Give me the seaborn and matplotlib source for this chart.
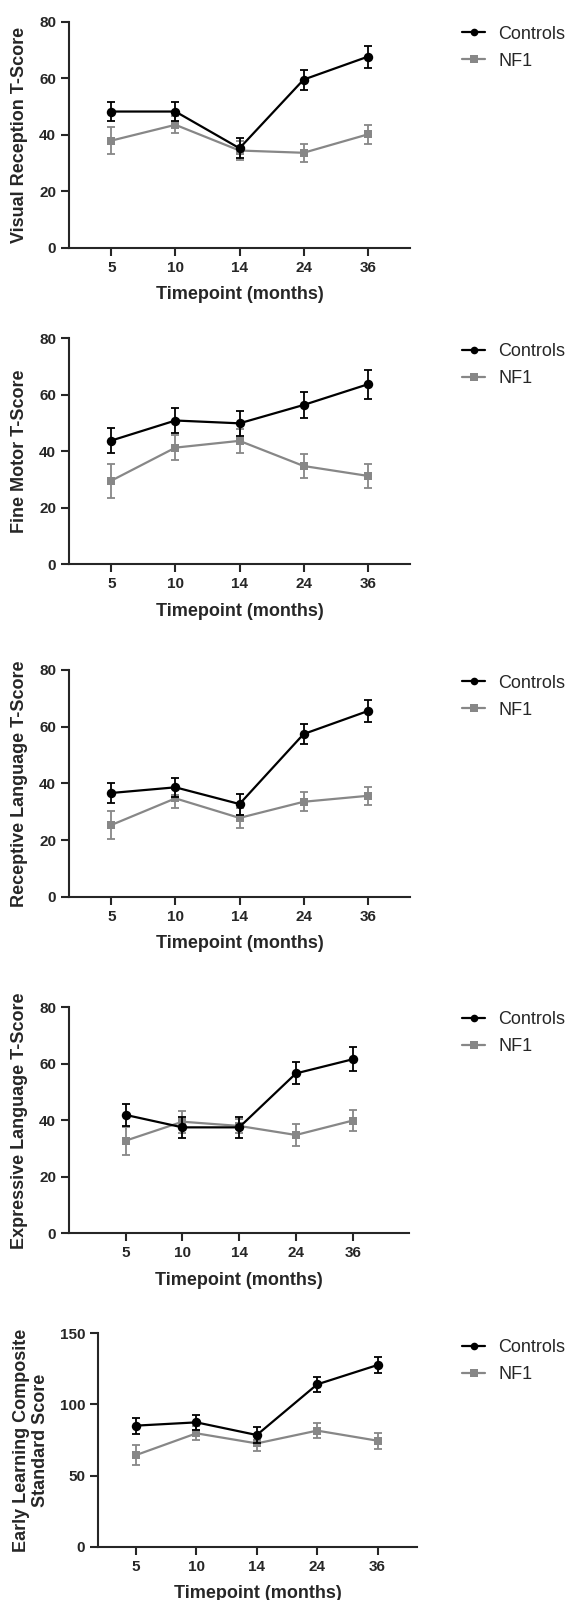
import numpy as np
import pandas as pd
import matplotlib
matplotlib.use("Agg")
import matplotlib.pyplot as plt
from matplotlib.lines import Line2D
import seaborn as sns

sns.set_style("ticks")
plt.rcParams['font.family'] = ['Liberation Sans', 'DejaVu Sans']

timepoints = ["5", "10", "14", "24", "36"]
groups = ["Controls", "NF1"]

# panel titles (y labels)
ylabels = ["Visual Reception T-Score",
           "Fine Motor T-Score",
           "Receptive Language T-Score",
           "Expressive Language T-Score",
           "Early Learning Composite\nStandard Score"]

# means and SEM
vr_ctrl = [48.2, 48.2, 35.2, 59.5, 67.6]
vr_ctrl_err = [3.5, 3.3, 3.6, 3.5, 3.9]
vr_nf1 = [37.9, 43.5, 34.4, 33.6, 40.1]
vr_nf1_err = [4.7, 3.0, 3.3, 3.2, 3.5]

fm_ctrl = [43.8, 50.9, 49.9, 56.4, 63.7]
fm_ctrl_err = [4.5, 4.3, 4.5, 4.5, 5.1]
fm_nf1 = [29.6, 41.3, 43.7, 34.8, 31.3]
fm_nf1_err = [6.0, 4.5, 4.2, 4.4, 4.3]

rl_ctrl = [36.6, 38.6, 32.7, 57.4, 65.5]
rl_ctrl_err = [3.5, 3.4, 3.7, 3.5, 3.8]
rl_nf1 = [25.3, 34.7, 27.8, 33.5, 35.6]
rl_nf1_err = [5.0, 3.4, 3.4, 3.3, 3.2]

el_ctrl = [41.9, 37.5, 37.5, 56.6, 61.6]
el_ctrl_err = [3.8, 3.6, 3.8, 3.9, 4.3]
el_nf1 = [32.8, 39.5, 38.0, 34.8, 39.9]
el_nf1_err = [5.0, 3.9, 2.5, 3.8, 3.8]

elc_ctrl = [85.1, 87.4, 78.5, 114.1, 127.7]
elc_ctrl_err = [5.6, 5.3, 5.6, 5.3, 5.9]
elc_nf1 = [64.4, 79.7, 72.6, 81.6, 74.5]
elc_nf1_err = [7.0, 5.0, 5.3, 5.3, 5.5]

panels = [(vr_ctrl, vr_ctrl_err, vr_nf1, vr_nf1_err),
          (fm_ctrl, fm_ctrl_err, fm_nf1, fm_nf1_err),
          (rl_ctrl, rl_ctrl_err, rl_nf1, rl_nf1_err),
          (el_ctrl, el_ctrl_err, el_nf1, el_nf1_err),
          (elc_ctrl, elc_ctrl_err, elc_nf1, elc_nf1_err)]

ymax = [80, 80, 80, 80, 150]
ystep = [20, 20, 20, 20, 50]

colors = {"Controls": "#000000", "NF1": "#878787"}
markers = {"Controls": "o", "NF1": "s"}
msize = {"Controls": 6.8, "NF1": 6.3}

W, H = 567, 1600
fig = plt.figure(figsize=(W / 100, H / 100), dpi=100)

# axes boxes in pixels: left, top, right, bottom
boxes = [(69, 21.7, 410, 247.7),
         (69, 338.3, 410, 564.3),
         (69, 670, 410, 896.7),
         (69, 1007.3, 409.4, 1233.3),
         (98, 1333.3, 417.4, 1546.7)]
xlims = [(-0.66, 4.66), (-0.66, 4.66), (-0.66, 4.66), (-1.0, 5.0), (-0.63, 4.66)]
leg_top = [36, 353.3, 685, 1021.7, 1349.3]
ylab_x = [20, 20, 20, 20, 31]

for i, (c, ce, n, ne) in enumerate(panels):
    l, t, r, b = boxes[i]
    ax = fig.add_axes([l / W, 1 - b / H, (r - l) / W, (b - t) / H])
    df = pd.DataFrame({
        "pos": list(range(5)) * 2,
        "mean": c + n,
        "err": ce + ne,
        "group": ["Controls"] * 5 + ["NF1"] * 5,
    })
    for g, z in [("NF1", 2), ("Controls", 4)]:
        d = df[df["group"] == g]
        ax.errorbar(d["pos"], d["mean"], yerr=d["err"], fmt="none",
                    ecolor=colors[g], elinewidth=1.3, capsize=3.1,
                    capthick=1.3, zorder=z)
        sns.lineplot(data=d, x="pos", y="mean", color=colors[g],
                     marker=markers[g], markersize=msize[g], markeredgewidth=0,
                     linewidth=1.6, ax=ax, zorder=z + 1, legend=False)

    ax.set_xlim(*xlims[i])
    ax.set_ylim(0, ymax[i])
    ax.set_xticks(range(5))
    ax.set_xticklabels(timepoints)
    ax.set_yticks(np.arange(0, ymax[i] + 1, ystep[i]))
    sns.despine(ax=ax)
    for sp in ["left", "bottom"]:
        ax.spines[sp].set_linewidth(1.5)
    ax.tick_params(length=5.8, width=1.5, labelsize=11, pad=3.5)
    for lab in ax.get_xticklabels() + ax.get_yticklabels():
        lab.set_fontweight("bold")

    hpx = b - t
    wpx = r - l
    ax.set_xlabel("Timepoint (months)", fontsize=13, fontweight="bold")
    ax.xaxis.set_label_coords(0.5, -47 / hpx)
    ax.set_ylabel(ylabels[i], fontsize=13, fontweight="bold")
    ax.yaxis.set_label_coords((ylab_x[i] - l) / wpx, 0.5)
    ax.yaxis.label.set_va("center")
    ax.xaxis.label.set_va("center")

    handles = [Line2D([], [], color=colors[g], marker=markers[g], markersize=5.5,
                      markeredgewidth=0, linewidth=1.6) for g in groups]
    ax.legend(handles, groups, loc="upper left",
              bbox_to_anchor=(462 / W, 1 - (leg_top[i] - 10.4) / H),
              bbox_transform=fig.transFigure, frameon=False, fontsize=13,
              handlelength=1.3, handletextpad=0.7, labelspacing=0.55,
              borderpad=0, borderaxespad=0)

fig.savefig("out.png", dpi=100)
